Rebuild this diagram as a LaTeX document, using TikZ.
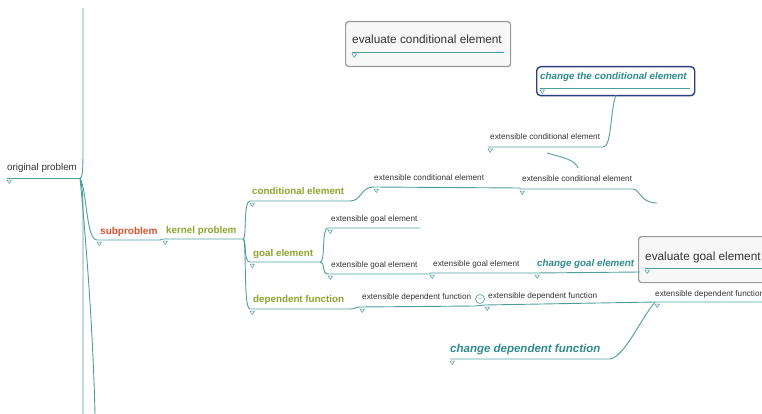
\documentclass[tikz,border=0pt]{standalone}
\usepackage{fontspec}
\setmainfont{Liberation Sans}
\definecolor{ln}{HTML}{4E9E9E}
\definecolor{grn}{HTML}{8AA62C}
\definecolor{rd}{HTML}{D4532B}
\definecolor{tl}{HTML}{2F8C8C}
\definecolor{txt}{HTML}{333333}
\definecolor{navy}{HTML}{2B3F86}
\begin{document}
\begin{tikzpicture}[x=1pt,y=-1pt,
  conn/.style={draw=ln, line width=0.9pt},
  ext/.style={anchor=base west, inner sep=0, font=\fontsize{8.2}{9}\selectfont, text=txt},
  plain/.style={anchor=base west, inner sep=0, font=\fontsize{9.8}{11}\selectfont, text=txt},
  grnb/.style={anchor=base west, inner sep=0, font=\fontsize{9.8}{11}\selectfont\bfseries, text=grn},
  redb/.style={anchor=base west, inner sep=0, font=\fontsize{10}{11}\selectfont\bfseries, text=rd},
  tlbi/.style={anchor=base west, inner sep=0, font=\fontsize{9.8}{11}\selectfont\bfseries\itshape, text=tl},
  big/.style={anchor=base west, inner sep=0, font=\fontsize{11.8}{13}\selectfont, text=txt},
  tri/.pic={\draw[draw=ln, line width=0.5pt, fill=white] (0,2) -- (4.5,2) -- (2.25,5.5) -- cycle;}
]
\useasboundingbox (0,0) rectangle (762,414);

% boxes
\node[draw=black!40, line width=1.2pt, rounded corners=3pt, fill=black!3, minimum width=165pt, minimum height=45pt, anchor=north west] (ecbox) at (345,21) {};
\node[draw=navy, line width=1.4pt, rounded corners=4pt, fill=white, minimum width=158pt, minimum height=29pt, anchor=north west] (ccbox) at (536,66) {};
\node[draw=black!40, line width=1.2pt, rounded corners=3pt, fill=black!3, minimum width=140pt, minimum height=46pt, anchor=north west] (egbox) at (638,236) {};

% texts
\node[plain] (orig) at (7,171) {original problem};
\node[redb] (sub) at (100,234) {subproblem};
\node[grnb] (kern) at (166,233) {kernel problem};
\node[grnb] (cond) at (252,194) {conditional element};
\node[grnb] (goal) at (253,256) {goal element};
\node[grnb] (dep) at (253,302) {dependent function};
\node[ext] (ec1) at (374,181) {extensible conditional element};
\node[ext] (ec2) at (522,182) {extensible conditional element};
\node[ext] (ec3) at (490,140) {extensible conditional element};
\node[tlbi] (cc) at (540,80) {change the conditional element};
\node[big] (ev) at (352,44) {evaluate conditional element};
\node[ext] (eg1) at (331,221) {extensible goal element};
\node[ext] (eg2) at (331,267) {extensible goal element};
\node[ext] (eg3) at (433,266) {extensible goal element};
\node[tlbi] (cg) at (537,266) {change goal element};
\node[big] (evg) at (645,260) {evaluate goal element};
\node[ext] (ed1) at (362,299) {extensible dependent function};
\node[ext] (ed2) at (488,298) {extensible dependent function};
\node[ext] (ed3) at (655,296) {extensible dependent function};
\node[tlbi, font=\fontsize{11.5}{13}\selectfont\bfseries\itshape] (cd) at (450,352) {change dependent function};
\node[draw=ln, circle, inner sep=0, minimum size=9pt, line width=0.6pt, font=\fontsize{7}{7}\selectfont, text=ln] (minus) at (480,299) {$-$};

% coordinates
\coordinate (os) at (7,178); \coordinate (oe) at (80,178);
\coordinate (top) at (83,8); \coordinate (bot1) at (83,414); \coordinate (bot2) at (95,414);
\coordinate (ss) at (97,240); \coordinate (se) at (160,240);
\coordinate (ks) at (163,239); \coordinate (ke) at (243,239);
\coordinate (cs) at (250,201); \coordinate (ce) at (350,201);
\coordinate (gs) at (250,262); \coordinate (ge) at (320,262);
\coordinate (ds) at (250,309); \coordinate (de) at (350,309);
\coordinate (e1s) at (374,187); \coordinate (e1e) at (520,188);
\coordinate (e2s) at (520,189); \coordinate (e2e) at (633,189); \coordinate (e2x) at (657,203);
\coordinate (e3s) at (488,147); \coordinate (e3e) at (603,147);
\coordinate (fa) at (547,153); \coordinate (fb) at (578,168);
\coordinate (ccs) at (540,88); \coordinate (cce) at (690,88); \coordinate (ccb) at (616,95);
\coordinate (evs) at (352,52); \coordinate (eve) at (504,52);
\coordinate (g1s) at (328,228); \coordinate (g1e) at (420,228);
\coordinate (g2s) at (328,274); \coordinate (g2e) at (430,274);
\coordinate (g3s) at (430,273); \coordinate (g3e) at (535,273);
\coordinate (cgs) at (535,273); \coordinate (cge) at (640,272);
\coordinate (evgs) at (645,268); \coordinate (evge) at (762,268);
\coordinate (d1s) at (360,307); \coordinate (d1e) at (475,306);
\coordinate (d2s) at (485,305); \coordinate (d2e) at (655,302);
\coordinate (d3s) at (655,302); \coordinate (d3e) at (762,302);
\coordinate (cds) at (450,359); \coordinate (cde) at (610,359);

% underlines and connectors
\draw[conn] (os) -- (oe);
\draw[conn] (oe) .. controls (83,178) and (83,165) .. (83,145) -- (top);
\draw[conn] (oe) .. controls (83,190) and (83,200) .. (83,215) -- (bot1);
\draw[conn] (oe) .. controls (86,240) and (93,330) .. (bot2);
\draw[conn] (oe) .. controls (87,190) and (86,240) .. (ss) -- (se);
\draw[conn] (se) .. controls (161,239) and (162,239) .. (ks) -- (ke);
\draw[conn] (ke) .. controls (247,239) and (243,201) .. (cs) -- (ce);
\draw[conn] (ke) .. controls (247,239) and (243,262) .. (gs) -- (ge);
\draw[conn] (ke) .. controls (247,239) and (243,309) .. (ds) -- (de);
\draw[conn] (ce) .. controls (362,201) and (360,187) .. (e1s) -- (e1e);
\draw[conn] (e1e) -- (e2s) -- (e2e) .. controls (640,189) and (640,203) .. (e2x) ;
\draw[conn] (e3s) -- (e3e) .. controls (612,147) and (610,110) .. (ccb);
\draw[conn] (fa) .. controls (565,158) and (575,160) .. (fb);
\draw[conn] (ccs) -- (cce);
\draw[conn] (evs) -- (eve);
\draw[conn] (ge) .. controls (326,262) and (321,228) .. (g1s) -- (g1e);
\draw[conn] (ge) .. controls (326,262) and (321,274) .. (g2s) -- (g2e) -- (g3s) -- (g3e) -- (cgs) -- (cge);
\draw[conn] (evgs) -- (evge);
\draw[conn] (de) .. controls (355,309) and (355,307) .. (d1s) -- (d1e) -- (d2s) -- (d2e) -- (d3s) -- (d3e);
\draw[conn] (d3s) .. controls (640,320) and (625,356) .. (cde) -- (cds);

% markers
\foreach \p in {os,ss,ks,cs,gs,ds,e1s,e2s,e3s,ccs,evs,g1s,g2s,g3s,cgs,evgs,d1s,d2s,d3s,cds}
  \pic at (\p) {tri};
\end{tikzpicture}
\end{document}
